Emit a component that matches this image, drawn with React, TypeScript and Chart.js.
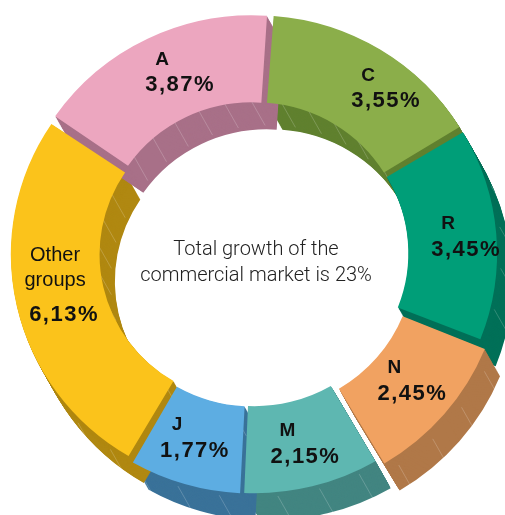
import React, { useEffect, useRef } from "react";
import { Chart, registerables } from "chart.js";

Chart.register(...registerables);

// ---- data ----
const categories = ["C", "R", "N", "M", "J", "Other groups", "A"];
const shares = [3.55, 3.45, 2.45, 2.15, 1.77, 6.13, 3.87];
const shareLabels = ["3,55%", "3,45%", "2,45%", "2,15%", "1,77%", "6,13%", "3,87%"];
const centerText = ["Total growth of the", "commercial market is 23%"];

// ---- styling ----
const faceColors = ["#8BAE4A", "#009E78", "#F1A261", "#5EB7B1", "#5DADE2", "#FBC31B", "#ECA6BF"];
const sideColors = ["#60802F", "#007058", "#B07848", "#428581", "#3A7299", "#B08811", "#A87088"];
const explode = [16, 16, 36, 16, 16, 16, 16];
const labelNudge: number[][] = [[17, 5], [0, 0], [-15, -11], [-7, -4], [-11, -8], [2, -13], [5, -2]];
const EXTRUDE = { x: 15, y: 27 };
const STRETCH_X = 1.02;
const LABEL_FONT = "'Liberation Sans', Arial, sans-serif";

function faceGeom(el: any) {
  const o4 = (el.options.offset || 0) / 4;
  const sp = (el.options.spacing || 0) / 2;
  const s = el.startAngle, e = el.endAngle;
  const mid = (s + e) / 2;
  const fix = 1 - Math.sin(Math.min(Math.PI, e - s));
  const d = o4 * (1 + fix);
  return {
    cx: el.x + Math.cos(mid) * d,
    cy: el.y + Math.sin(mid) * d,
    inner: el.innerRadius + o4 + sp,
    outer: el.outerRadius + o4 + sp,
    s, e, mid, d,
  };
}

const extrudePlugin = {
  id: "extrude",
  beforeDatasetsDraw(chart: any) {
    const ctx = chart.ctx;
    const meta = chart.getDatasetMeta(0);
    const c = meta.data[0];
    ctx.save();
    ctx.translate(c.x, c.y);
    ctx.scale(STRETCH_X, 1);
    ctx.translate(-c.x, -c.y);
    const steps = Math.ceil(Math.hypot(EXTRUDE.x, EXTRUDE.y));
    meta.data.forEach((el: any, i: number) => {
      const proxy = Object.create(el);
      proxy.options = { ...el.options, backgroundColor: sideColors[i], borderWidth: 0 };
      for (let k = steps; k >= 1; k--) {
        ctx.save();
        ctx.translate((EXTRUDE.x * k) / steps, (EXTRUDE.y * k) / steps);
        proxy.draw(ctx);
        ctx.restore();
      }
      // faint ridge lines on the extruded sides
      const g = faceGeom(el);
      ctx.save();
      ctx.strokeStyle = "rgba(255,255,255,0.28)";
      ctx.lineWidth = 0.7;
      const stepA = (10 * Math.PI) / 180;
      for (let a = g.s + stepA * 0.5; a < g.e; a += stepA) {
        for (const r of [g.inner, g.outer]) {
          const px = g.cx + Math.cos(a) * r;
          const py = g.cy + Math.sin(a) * r;
          ctx.beginPath();
          ctx.moveTo(px, py);
          ctx.lineTo(px + EXTRUDE.x, py + EXTRUDE.y);
          ctx.stroke();
        }
      }
      ctx.restore();
    });
  },
};

const labelPlugin = {
  id: "labels",
  afterDatasetsDraw(chart: any) {
    const ctx = chart.ctx;
    ctx.restore(); // undo the horizontal stretch used for the ring
    const meta = chart.getDatasetMeta(0);
    ctx.save();
    ctx.textAlign = "center";
    ctx.textBaseline = "middle";
    ctx.fillStyle = "#111111";
    meta.data.forEach((el: any, i: number) => {
      const g = faceGeom(el);
      const r = (g.inner + g.outer) / 2 + g.d;
      const x = el.x + Math.cos(g.mid) * r * STRETCH_X + labelNudge[i][0];
      const y = el.y + Math.sin(g.mid) * r + labelNudge[i][1];
      const name = categories[i];
      if (name.includes(" ")) {
        const words = name.split(" ");
        ctx.font = `20px ${LABEL_FONT}`;
        (ctx as any).letterSpacing = "0px";
        ctx.fillText(words[0], x - 3, y - 29);
        ctx.fillText(words[1], x - 3, y - 4);
        ctx.font = `bold 22px ${LABEL_FONT}`;
        (ctx as any).letterSpacing = "1.5px";
        ctx.fillText(shareLabels[i], x + 6, y + 30);
      } else {
        ctx.font = `bold 19px ${LABEL_FONT}`;
        (ctx as any).letterSpacing = "0px";
        ctx.fillText(name, x - 8, y - 13);
        ctx.font = `bold 22px ${LABEL_FONT}`;
        (ctx as any).letterSpacing = "1.5px";
        ctx.fillText(shareLabels[i], x + 10, y + 13);
      }
    });
    // center text
    const el0 = meta.data[0];
    (ctx as any).letterSpacing = "0px";
    ctx.fillStyle = "#222222";
    ctx.font = "300 20px Roboto, 'Liberation Sans', sans-serif";
    ctx.fillText(centerText[0], el0.x + 2.5, el0.y - 4);
    ctx.fillText(centerText[1], el0.x + 2.5, el0.y + 22);
    ctx.restore();
  },
};

export default function App() {
  const ref = useRef<HTMLCanvasElement>(null);
  useEffect(() => {
    document.body.style.margin = "0";
    const chart = new Chart(ref.current as HTMLCanvasElement, {
      type: "doughnut",
      data: {
        labels: categories,
        datasets: [
          {
            data: shares,
            backgroundColor: faceColors,
            borderWidth: 0,
            offset: explode,
            spacing: 4,
            hoverOffset: 0,
            clip: false,
          } as any,
        ],
      },
      options: {
        responsive: false,
        animation: false,
        rotation: 4,
        radius: 232,
        cutout: "62.5%",
        events: [],
        layout: { padding: { left: 2, right: 0, top: 0, bottom: 8 } },
        plugins: { legend: { display: false }, tooltip: { enabled: false } },
      } as any,
      plugins: [extrudePlugin, labelPlugin],
    });
    return () => chart.destroy();
  }, []);
  return <canvas ref={ref} width={505} height={515} style={{ display: "block" }} />;
}
